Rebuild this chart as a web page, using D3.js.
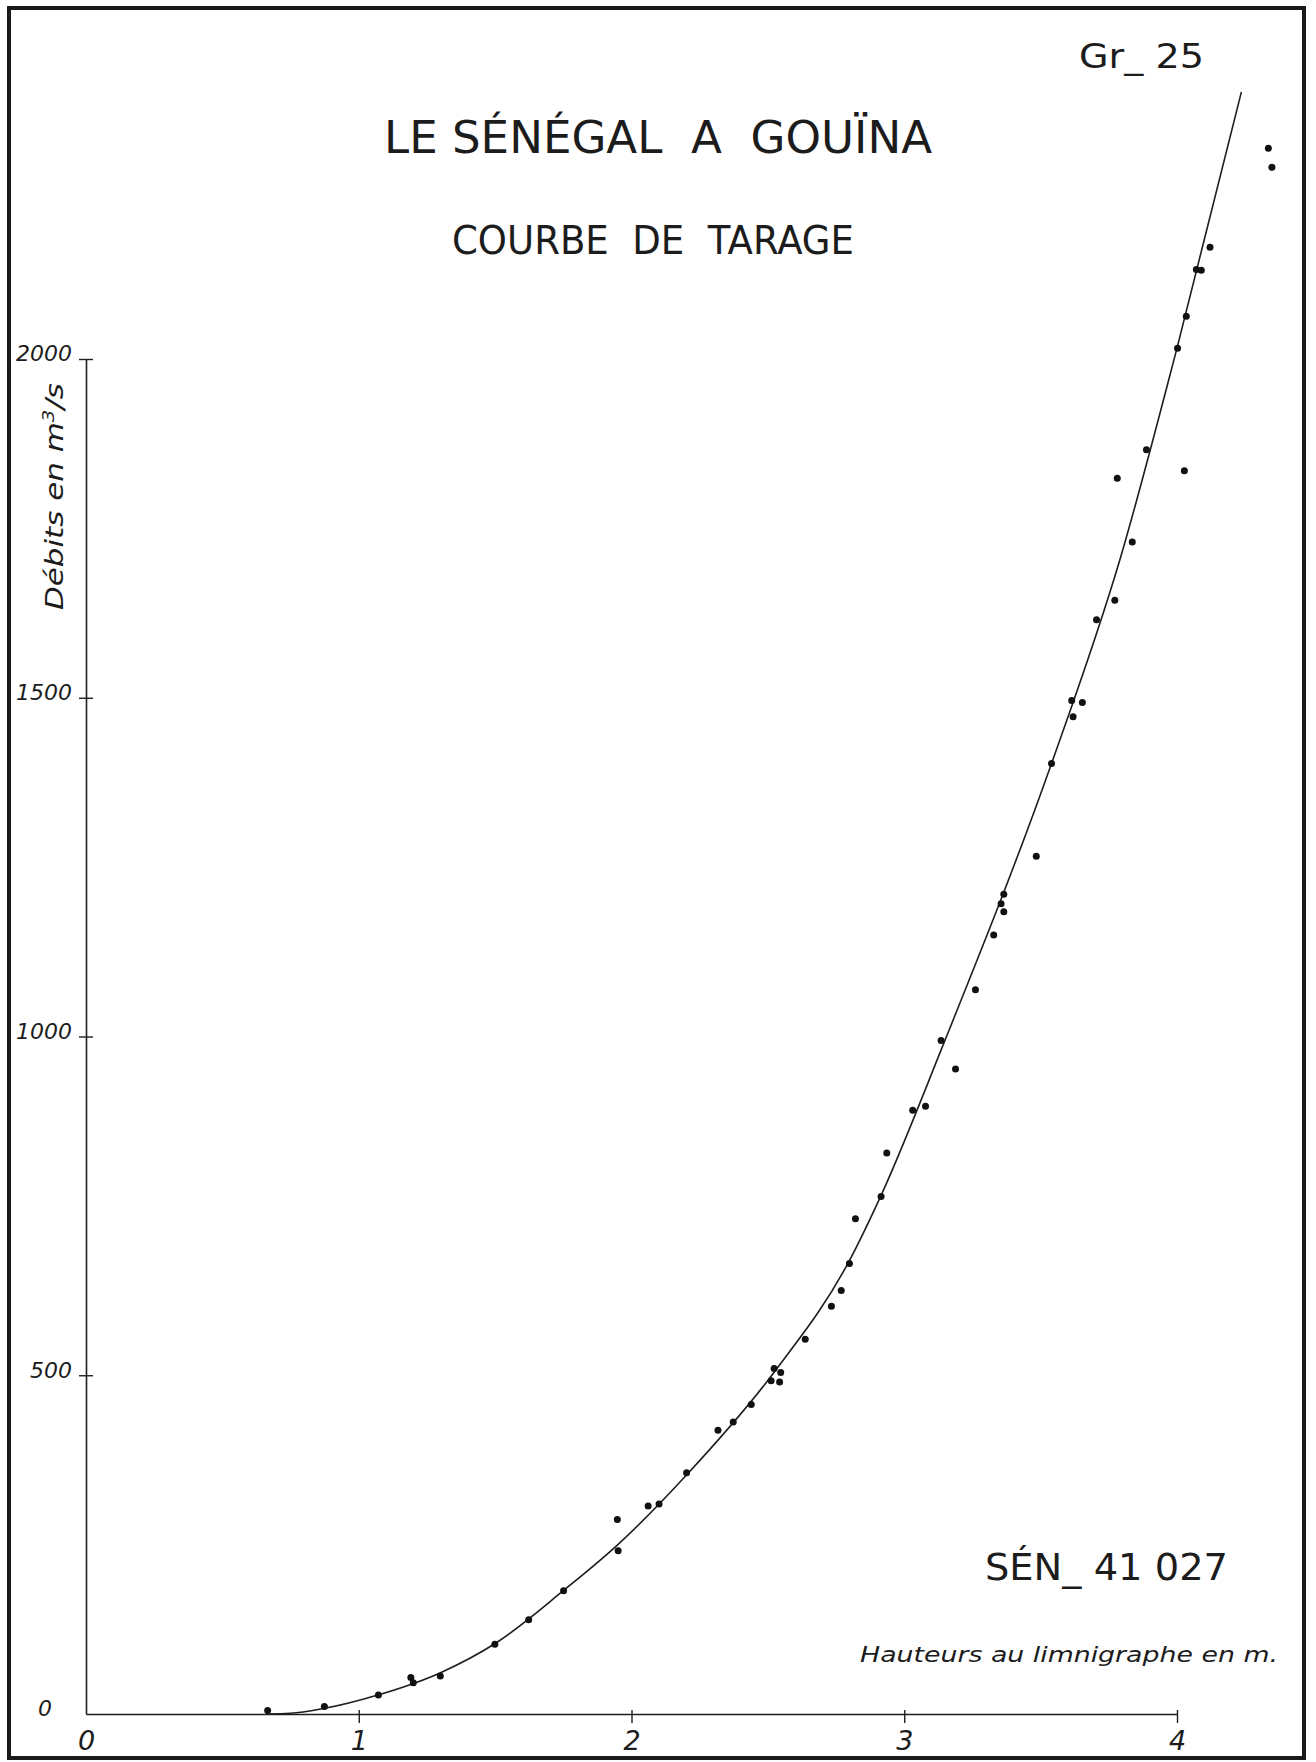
<!DOCTYPE html>
<html>
<head>
<meta charset="utf-8">
<script src="https://cdn.jsdelivr.net/npm/d3@7"></script>
<style>
  html, body { margin: 0; padding: 0; background: #ffffff; }
  svg { display: block; }
  text { font-family: "DejaVu Sans", "Liberation Sans", sans-serif; fill: #1c1c1c; white-space: pre; }
</style>
</head>
<body>
<script>
// ---- data ----
const heights = [0.666, 0.874, 1.072, 1.191, 1.200, 1.299, 1.499, 1.623, 1.751, 1.951, 1.948, 2.061, 2.101, 2.202,
  2.317, 2.373, 2.439, 2.512, 2.543, 2.523, 2.547, 2.637, 2.733, 2.769, 2.799, 2.821, 2.915, 2.936, 3.031, 3.078,
  3.188, 3.135, 3.261, 3.328, 3.365, 3.355, 3.365, 3.484, 3.540, 3.619, 3.614, 3.653, 3.705, 3.772, 3.836, 3.781,
  4.027, 3.888, 4.002, 4.034, 4.071, 4.089, 4.121, 4.335, 4.348];
const discharges = [5, 11, 28, 54, 46, 56, 103, 139, 182, 241, 287, 307, 310, 356,
  419, 431, 457, 492, 490, 510, 504, 553, 602, 625, 665, 731, 764, 828, 891, 897,
  952, 994, 1069, 1150, 1184, 1196, 1210, 1266, 1403, 1472, 1496, 1493, 1615, 1644, 1730, 1824,
  1835, 1866, 2016, 2063, 2132, 2131, 2165, 2311, 2283];

// rating curve as drawn
const curveH = [0.66, 0.75, 0.87, 1.07, 1.30, 1.50, 1.75, 1.95, 2.20, 2.52, 2.80, 2.92, 3.14, 3.54, 3.79, 4.00, 4.236];
const curveQ = [0, 1, 8, 28, 61, 104, 182, 250, 352, 503, 670, 770, 985, 1403, 1703, 2016, 2394];

const xTicks = [0, 1, 2, 3, 4];
const yTicks = [0, 500, 1000, 1500, 2000];

const W = 1316, H = 1762;
const svg = d3.select("body").append("svg").attr("width", W).attr("height", H);
svg.append("rect").attr("width", W).attr("height", H).attr("fill", "#ffffff");

// frame
svg.append("rect").attr("x", 9).attr("y", 8).attr("width", 1295).attr("height", 1750)
  .attr("fill", "none").attr("stroke", "#1a1a1a").attr("stroke-width", 4);

const x = d3.scaleLinear().domain([0, 4]).range([86, 1177]);
const y = d3.scaleLinear().domain([0, 2000]).range([1714, 359]);

// x axis
const gx = svg.append("g").attr("transform", `translate(0,${y(0)})`)
  .call(d3.axisBottom(x).tickValues(xTicks).tickSizeInner(9).tickSizeOuter(0).tickFormat(d3.format("d")));
gx.select(".domain").attr("stroke", "#1e1e1e").attr("stroke-width", 1.6);
gx.selectAll(".tick line").attr("y1", -4).attr("y2", 9).attr("stroke", "#1e1e1e").attr("stroke-width", 1.4)
  .attr("display", d => d === 0 ? "none" : null);
gx.selectAll(".tick text").attr("y", 36).attr("dy", 0)
  .attr("font-size", 27).attr("font-style", "italic").attr("fill", "#1c1c1c")
  .attr("font-family", "DejaVu Sans");

// y axis
const gy = svg.append("g").attr("transform", `translate(${x(0)},0)`)
  .call(d3.axisLeft(y).tickValues(yTicks).tickSizeInner(7).tickSizeOuter(0).tickFormat(d3.format("d")));
gy.select(".domain").attr("stroke", "#1e1e1e").attr("stroke-width", 1.6);
gy.selectAll(".tick line").attr("x1", -7).attr("x2", 7).attr("stroke", "#1e1e1e").attr("stroke-width", 1.4)
  .attr("display", d => d === 0 ? "none" : null);
gy.selectAll(".tick text")
  .attr("x", d => d === 0 ? -41 : -14)
  .attr("text-anchor", d => d === 0 ? "middle" : "end")
  .attr("dy", d => d === 0 ? "0.05em" : "0.08em")
  .attr("font-size", 22).attr("font-style", "italic").attr("fill", "#1c1c1c")
  .attr("font-family", "DejaVu Sans");

// rating curve
const line = d3.line().x((d, i) => x(curveH[i])).y((d, i) => y(curveQ[i])).curve(d3.curveMonotoneX);
svg.append("path").datum(curveQ).attr("d", line)
  .attr("fill", "none").attr("stroke", "#1e1e1e").attr("stroke-width", 1.6);

// gaugings
svg.append("g").selectAll("circle").data(heights).join("circle")
  .attr("cx", (d) => x(d)).attr("cy", (d, i) => y(discharges[i])).attr("r", 3.5)
  .attr("fill", "#111");

// texts
function label(txt, px, py, size, len, opts = {}) {
  const t = svg.append("text").attr("x", px).attr("y", py).attr("font-size", size)
    .attr("textLength", len).attr("lengthAdjust", "spacingAndGlyphs").text(txt);
  if (opts.italic) t.attr("font-style", "italic");
  return t;
}
label("Gr_ 25", 1079, 68, 34, 125);
label("LE SÉNÉGAL  A  GOUÏNA", 384, 153, 45, 548);
label("COURBE  DE  TARAGE", 452, 254, 39, 402);
label("SÉN_ 41 027", 985, 1580, 37, 243);
label("Hauteurs au limnigraphe en m.", 860, 1662, 21, 418, { italic: true });

// y axis title (rotated)
const yt = svg.append("text")
  .attr("transform", "translate(63,610) rotate(-90)")
  .attr("font-size", 25).attr("font-style", "italic")
  .attr("textLength", 227).attr("lengthAdjust", "spacingAndGlyphs");
yt.append("tspan").text("Débits en m");
yt.append("tspan").attr("font-size", 16).attr("dy", -9).text("3");
yt.append("tspan").attr("dy", 9).text("/s");
</script>
</body>
</html>
